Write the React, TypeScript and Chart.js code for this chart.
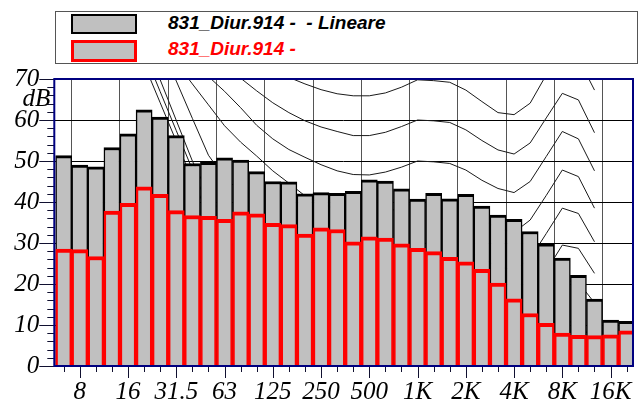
import React, { useEffect, useRef } from 'react';
import { Chart, registerables } from 'chart.js';

Chart.register(...registerables);

// Third-octave band centres (x categories)
const BANDS = ['6.3', '8', '10', '12.5', '16', '20', '25', '31.5', '40', '50', '63', '80', '100', '125', '160', '200', '250', '315', '400', '500', '630', '800', '1K', '1.25K', '1.6K', '2K', '2.5K', '3.15K', '4K', '5K', '6.3K', '8K', '10K', '12.5K', '16K', '20K'];
// Labelled octave ticks
const TICK_LABELS = ['8', '16', '31.5', '63', '125', '250', '500', '1K', '2K', '4K', '8K', '16K'];
const Y_TICKS = [0, 10, 20, 30, 40, 50, 60, 70];
const Y_UNIT = 'dB';
const Y_UNIT_AT = 65;
const Y_MINOR_STEP = 2;

const SERIES_LIN_NAME = '831_Diur.914 -  - Lineare';
const SERIES_RED_NAME = '831_Diur.914 -';

// Linear spectrum (grey bars, black outline)
const LINEARE = [51.3, 49.0, 48.6, 53.3, 56.6, 62.5, 60.7, 56.2, 49.4, 49.7, 50.8, 50.2, 47.4, 45.0, 44.9, 42.0, 42.3, 42.1, 42.6, 45.4, 45.1, 43.2, 40.7, 42.1, 40.8, 41.9, 39.0, 36.8, 35.8, 32.8, 29.8, 26.3, 22.1, 16.3, 11.2, 10.9];
// Second spectrum (grey bars, red outline)
const SECONDO = [28.5, 28.4, 26.7, 37.8, 39.7, 43.7, 41.9, 37.9, 36.7, 36.5, 35.8, 37.6, 37.1, 34.8, 34.5, 32.2, 33.7, 33.3, 30.3, 31.5, 31.2, 29.8, 28.7, 27.9, 26.5, 25.4, 23.6, 20.2, 16.4, 12.8, 10.4, 8.0, 7.5, 7.4, 7.6, 8.6];

const N = null;
// Background iso-curves (values per band)
const CURVE_70 = [N, N, N, N, N, N, N, N, N, N, N, N, N, 74.5, 70.4, 68.8, 67.4, 66.4, 65.9, 65.9, 66.6, 68.0, 69.8, 69.6, 69.2, 67.3, 64.5, 61.8, 61.3, 64.1, 71.0, 77.0, 75.0, 67.3, N, N];
const CURVE_60 = [N, N, N, N, N, N, N, N, N, N, 74.0, 70.2, 67.1, 64.2, 61.8, 59.8, 58.3, 57.2, 56.2, 56.2, 57.0, 58.4, 60.0, 59.8, 59.4, 57.6, 55.0, 52.7, 51.7, 54.4, 60.5, 66.5, 64.9, 56.9, N, N];
const CURVE_50 = [N, N, N, N, N, N, N, N, 74.5, 70.6, 67.0, 63.0, 58.7, 55.4, 52.8, 50.9, 49.1, 47.6, 46.7, 46.6, 47.3, 48.5, 50.0, 49.8, 49.4, 47.8, 45.3, 43.3, 42.3, 45.0, 51.1, 57.2, 55.4, 47.6, N, N];
const CURVE_40 = [N, N, N, N, N, N, N, 74.0, 68.8, 63.7, 58.6, 54.6, 51.2, 47.6, 44.6, 41.5, 39.6, 38.2, 37.2, 37.0, 37.6, 38.6, 40.0, 39.9, 39.5, 38.0, 35.8, 33.5, 32.6, 35.6, 41.6, 47.8, 46.2, 38.5, N, N];
const CURVE_30 = [N, N, N, N, N, N, 78.0, 69.5, 60.4, 51.4, 46.0, 42.5, 39.5, 37.0, 35.0, 33.0, 31.7, 30.5, 29.5, 29.2, 29.4, 29.8, 30.0, 29.9, 29.6, 28.3, 26.3, 24.2, 23.4, 26.2, 32.3, 38.5, 37.2, 30.3, N, N];
const CURVE_20 = [N, N, N, N, N, 79.0, 69.8, 59.9, 50.0, 42.0, 36.0, 31.5, 28.5, 26.0, 24.5, 23.0, 22.0, 21.0, 20.3, 20.0, 20.0, 20.0, 20.0, 20.0, 19.7, 18.6, 16.8, 15.0, 14.2, 17.0, 23.2, 29.5, 28.7, 22.6, N, N];
const CURVE_10 = [N, N, N, N, 86.0, 76.5, 66.9, 57.4, 47.9, 39.0, 32.0, 27.0, 22.0, 18.5, 16.0, 14.0, 12.5, 11.5, 10.7, 10.2, 10.0, 10.0, 10.0, 10.2, 9.8, 8.8, 7.0, 5.3, 4.8, 7.5, 14.0, 21.0, 20.4, 15.4, N, N];
const CURVE_0 = [N, N, N, N, 83.0, 73.6, 64.2, 54.8, 45.4, 37.0, 29.0, 22.0, 16.5, 12.0, 8.5, 6.0, 4.0, 2.5, 1.5, 0.5, 0.0, 0.0, 0.0, 0.0, -0.5, -1.5, -3.0, -5.0, -5.5, -2.5, 4.0, 11.0, 10.5, 6.0, N, N];

const GREY = '#c0c0c0';
const NAVY = '#000080';
const SERIF_FONT = 'italic 25px "Liberation Serif", "Times New Roman", serif';

const decorPlugin = {
  id: 'decor',
  afterDraw(chart: any) {
    const { ctx, chartArea: a, scales } = chart;
    const xs = scales.x;
    const ys = scales.y;
    ctx.save();
    // tick marks
    ctx.strokeStyle = '#101030';
    ctx.lineWidth = 1;
    ctx.beginPath();
    const yMax = Y_TICKS[Y_TICKS.length - 1];
    for (let v = Y_TICKS[0]; v <= yMax; v += Y_MINOR_STEP) {
      const y = Math.round(ys.getPixelForValue(v)) + 0.5;
      const len = Y_TICKS.includes(v) ? 15 : 7;
      ctx.moveTo(a.left - len, y);
      ctx.lineTo(a.left, y);
    }
    BANDS.forEach((b, i) => {
      const x = xs.getPixelForValue(i);
      if (x < a.left - 0.5 || x > a.right + 0.5) return;
      const len = TICK_LABELS.includes(b) ? 12 : 6;
      const px = Math.round(x) + 0.5;
      ctx.moveTo(px, a.bottom);
      ctx.lineTo(px, a.bottom + len);
    });
    ctx.stroke();
    // plot frame
    ctx.strokeStyle = NAVY;
    ctx.lineWidth = 2;
    ctx.strokeRect(a.left, a.top, a.right - a.left, a.bottom - a.top);
    // tick labels
    ctx.fillStyle = '#000';
    ctx.font = SERIF_FONT;
    ctx.textBaseline = 'middle';
    ctx.textAlign = 'right';
    Y_TICKS.forEach((v) => {
      ctx.fillText(String(v), a.left - 15, ys.getPixelForValue(v));
    });
    ctx.fillText(Y_UNIT, a.left - 4, ys.getPixelForValue(Y_UNIT_AT));
    ctx.textAlign = 'center';
    BANDS.forEach((b, i) => {
      if (!TICK_LABELS.includes(b)) return;
      const x = xs.getPixelForValue(i);
      ctx.fillText(b, x, a.bottom + 26);
    });
    ctx.restore();
  },
};

export default function App() {
  const ref = useRef<HTMLCanvasElement>(null);

  useEffect(() => {
    const canvas = ref.current;
    if (!canvas) return;
    const pts = (arr: (number | null)[]) => arr.map((v, i) => ({ x: i, y: v }));
    const curves = [CURVE_70, CURVE_60, CURVE_50, CURVE_40, CURVE_30, CURVE_20, CURVE_10, CURVE_0];
    const curveSets = curves.map((c) => ({
      type: 'line' as const,
      data: pts(c),
      borderColor: '#1a1a1a',
      borderWidth: 1,
      pointRadius: 0,
      tension: 0,
      spanGaps: false,
      clip: 0,
      order: 2,
    }));

    const chart = new Chart(canvas, {
      type: 'bar',
      data: {
        datasets: [
          {
            type: 'bar',
            label: SERIES_LIN_NAME,
            data: pts(LINEARE) as any,
            backgroundColor: GREY,
            borderColor: '#000',
            borderWidth: { top: 3, left: 1.5, right: 1.5, bottom: 0 } as any,
            barPercentage: 1,
            categoryPercentage: 1,
            grouped: false,
            clip: 0 as any,
            order: 1,
          },
          {
            type: 'bar',
            label: SERIES_RED_NAME,
            data: pts(SECONDO) as any,
            backgroundColor: GREY,
            borderColor: '#ff0000',
            borderWidth: { top: 4, left: 2.5, right: 2.5, bottom: 0 } as any,
            barPercentage: 1,
            categoryPercentage: 1,
            grouped: false,
            clip: 0 as any,
            order: 0,
          },
          ...(curveSets as any[]),
        ],
      },
      options: {
        responsive: false,
        animation: false,
        events: [],
        layout: { padding: { top: 79, right: 8, left: 0, bottom: 0 } },
        plugins: { legend: { display: false }, tooltip: { enabled: false } },
        scales: {
          x: {
            type: 'linear',
            min: -0.07,
            max: 34.88,
            bounds: 'data',
            afterBuildTicks: (s: any) => {
              s.ticks = BANDS.map((_, i) => ({ value: i })).filter((t) => t.value >= s.min && t.value <= s.max);
            },
            afterFit: (s: any) => {
              s.height = 39;
              s.paddingLeft = 0;
              s.paddingRight = 0;
            },
            ticks: { display: false, autoSkip: false, maxRotation: 0, minRotation: 0 },
            grid: {
              drawTicks: false,
              lineWidth: 1,
              color: (c: any) =>
                c.tick && TICK_LABELS.includes(BANDS[c.tick.value]) ? '#555555' : 'rgba(0,0,0,0)',
            },
            border: { display: false },
          },
          y: {
            min: Y_TICKS[0],
            max: Y_TICKS[Y_TICKS.length - 1],
            afterBuildTicks: (s: any) => {
              s.ticks = Y_TICKS.map((v) => ({ value: v }));
            },
            afterFit: (s: any) => {
              s.width = 54.3;
              s.paddingTop = 0;
              s.paddingBottom = 0;
            },
            ticks: { display: false },
            grid: { drawTicks: false, color: '#000', lineWidth: 1 },
            border: { display: false },
          },
        },
      },
      plugins: [decorPlugin],
    } as any);

    return () => chart.destroy();
  }, []);

  const legendText: React.CSSProperties = {
    position: 'absolute',
    left: 168,
    font: 'italic bold 19px "Liberation Sans", Arial, sans-serif',
    whiteSpace: 'pre',
    lineHeight: '19px',
  };

  return (
    <div style={{ position: 'absolute', left: 0, top: 0, width: 641, height: 405, background: '#fff' }}>
      <canvas ref={ref} width={641} height={405} style={{ position: 'absolute', left: 0, top: 0, width: 641, height: 405 }} />
      <div
        style={{
          position: 'absolute',
          left: 55,
          top: 11,
          width: 583,
          height: 53,
          border: '1px solid #555',
          boxSizing: 'border-box',
          background: '#fff',
        }}
      />
      <div style={{ position: 'absolute', left: 71, top: 14, width: 66, height: 20, boxSizing: 'border-box', border: '2px solid #000', background: GREY }} />
      <div style={{ position: 'absolute', left: 71, top: 40, width: 66, height: 22, boxSizing: 'border-box', border: '3px solid #ff0000', background: GREY }} />
      <div style={{ ...legendText, top: 12.5, color: '#000' }}>{SERIES_LIN_NAME}</div>
      <div style={{ ...legendText, top: 39, color: '#ff0000' }}>{SERIES_RED_NAME}</div>
    </div>
  );
}
